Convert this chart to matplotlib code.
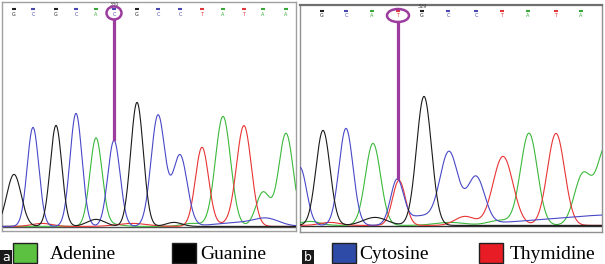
import numpy as np
import matplotlib
matplotlib.use("Agg")
import matplotlib.pyplot as plt
from matplotlib.patches import Ellipse, Rectangle

# ---- data (x = scan position, y = signal above baseline) ----
# panel a: base calls and the trace peaks under them
A_CALLS = list("GCGCACGCCTATAA")
A_POS = [12, 31, 54, 74, 94, 112, 135, 156, 178, 200, 221, 242, 261, 284]
A_HEIGHT = [52, 99, 101, 113, 88, 86, 124, 111, 71, 79, 110, 99, 34, 93]
A_WIDTH = [7.2, 5.8, 5.8, 6.0, 6.1, 6.1, 6.3, 6.9, 7.2, 6.6, 7.6, 7.3, 7.0, 7.3]
# low background bumps in panel a
A_BG_BASE = ["G", "G", "T", "T", "T", "C", "C", "A", "A"]
A_BG_POS = [94, 172, 40, 130, 230, 240, 265, 190, 110]
A_BG_HEIGHT = [7, 4, 3, 3, 3, 4, 6, 3, 2]
A_BG_WIDTH = [9, 8, 10, 15, 12, 25, 12, 10, 10]
A_MUT_IDX = 5
A_POS_LABEL = "330"

# panel b: base calls, then peaks (the heterozygous C/T site gives two)
B_CALLS = list("GCATGCCTATA")
B_CALL_POS = [22, 46, 72, 98, 122, 148, 176, 202, 228, 256, 281]
B_PEAK_BASE = ["C", "G", "C", "A", "C", "T", "G", "C", "C", "T", "A", "T", "A", "A"]
B_POS = [0, 23, 46, 73, 97, 99, 124, 149, 176, 203, 229, 256, 283, 306]
B_HEIGHT = [58, 95, 97, 82, 44, 45, 129, 72, 47, 69, 92, 92, 51, 78]
B_WIDTH = [6.6, 7.0, 7.0, 7.6, 6.4, 6.4, 7.5, 9.0, 8.6, 10.0, 8.4, 8.6, 8.6, 8.6]
B_BG_BASE = ["G", "C", "T", "A", "C", "A", "T", "A"]
B_BG_POS = [75, 120, 165, 200, 330, 10, 30, 150]
B_BG_HEIGHT = [8, 9, 9, 5, 11, 4, 3, 3]
B_BG_WIDTH = [12, 14, 10, 12, 80, 10, 10, 15]
B_MUT_IDX = 3
B_POS_LABEL = "329"

LEGEND_NAMES = ["Adenine", "Guanine", "Cytosine", "Thymidine"]
LEGEND_COLORS = ["#5cc040", "#000000", "#2f4ba8", "#e81c24"]

TRACE_COL = {"A": "#3cb83c", "G": "#1a1a1a", "C": "#4848c8", "T": "#e83434"}
CALL_COL = {"A": "#38a838", "G": "#202020", "C": "#4848b0", "T": "#e03838"}
PURPLE = "#9c3c9e"

W, H = 605, 264
fig = plt.figure(figsize=(W / 100, H / 100), dpi=100)


def panel(box, base_y):
    l, t, r, b = box
    ax = fig.add_axes([l / W, 1 - b / H, (r - l) / W, (b - t) / H])
    ax.set_xlim(0, r - l)
    ax.set_ylim(-(b - base_y), base_y - t)
    ax.set_xticks([]); ax.set_yticks([])
    return ax


def traces(ax, bases, pos, hgt, wid, bases2, pos2, hgt2, wid2, xmax):
    x = np.linspace(0, xmax, 2000)
    for base in ["A", "T", "C", "G"]:
        y = np.zeros_like(x)
        for b, p, h, w in zip(bases + bases2, pos + pos2, hgt + hgt2, wid + wid2):
            if b == base:
                y += h * np.exp(-0.5 * ((x - p) / w) ** 2)
        ax.plot(x, y + 0.6, color=TRACE_COL[base], lw=0.8, zorder=3)


# panel a
axa = panel((2, 2, 296, 231), 227)
for s in axa.spines.values():
    s.set_color("#a0a0a0"); s.set_linewidth(1)
axa.axhline(0, color="#505050", lw=1, zorder=2)
traces(axa, A_CALLS, A_POS, A_HEIGHT, A_WIDTH,
       A_BG_BASE, A_BG_POS, A_BG_HEIGHT, A_BG_WIDTH, 294)
for c, p in zip(A_CALLS, A_POS):
    axa.plot(p, 218, marker="_", ms=3, mew=1.5, color=CALL_COL[c])
    axa.text(p, 213, c, color=CALL_COL[c], fontsize=3.5, ha="center", va="center")
mx = A_POS[A_MUT_IDX]
axa.add_patch(Ellipse((mx, 214), 15, 13, fill=False, ec=PURPLE, lw=1.8, zorder=5))
axa.plot([mx, mx], [207.5, A_HEIGHT[A_MUT_IDX] + 2], color=PURPLE, lw=2.3, zorder=5)
axa.text(mx, 223, A_POS_LABEL, fontsize=3.5, ha="center", va="center", color="#404040")

# panel b
axb = panel((300, 5, 602, 232), 226)
for s in axb.spines.values():
    s.set_color("#909090"); s.set_linewidth(1)
axb.spines["top"].set_color("#707070"); axb.spines["top"].set_linewidth(1.6)
axb.axhline(0, color="#303030", lw=1, zorder=2)
traces(axb, B_PEAK_BASE, B_POS, B_HEIGHT, B_WIDTH,
       B_BG_BASE, B_BG_POS, B_BG_HEIGHT, B_BG_WIDTH, 302)
for c, p in zip(B_CALLS, B_CALL_POS):
    axb.plot(p, 215, marker="_", ms=3, mew=1.5, color=CALL_COL[c])
    axb.text(p, 210.5, c, color=CALL_COL[c], fontsize=3.5, ha="center", va="center")
mx = B_CALL_POS[B_MUT_IDX]
axb.add_patch(Ellipse((mx, 210.5), 22, 13, fill=False, ec=PURPLE, lw=1.8, zorder=5))
axb.plot([mx, mx], [204, B_HEIGHT[4] + 4], color=PURPLE, lw=2.3, zorder=5)
axb.text(122, 219, B_POS_LABEL, fontsize=3.5, ha="center", va="center", color="#404040")

# legend strip (pixel coordinates)
ov = fig.add_axes([0, 0, 1, 1])
ov.set_xlim(0, W); ov.set_ylim(H, 0); ov.axis("off")
box_x = [13, 172, 332, 479]
text_x = [50, 200, 359, 510]
for nm, col, bx, tx in zip(LEGEND_NAMES, LEGEND_COLORS, box_x, text_x):
    ov.add_patch(Rectangle((bx, 243), 24, 20, fc=col, ec="#202020", lw=1))
    ov.text(tx, 259, nm, fontsize=14, family="Liberation Serif", va="baseline", ha="left")
for lab, lx in zip(["a", "b"], [0, 302]):
    ov.add_patch(Rectangle((lx, 250), 12, 14, fc="#1a1a1a", ec="none"))
    ov.text(lx + 6, 257.5, lab, color="white", fontsize=9, ha="center", va="center")

fig.savefig("out.png", dpi=100)
